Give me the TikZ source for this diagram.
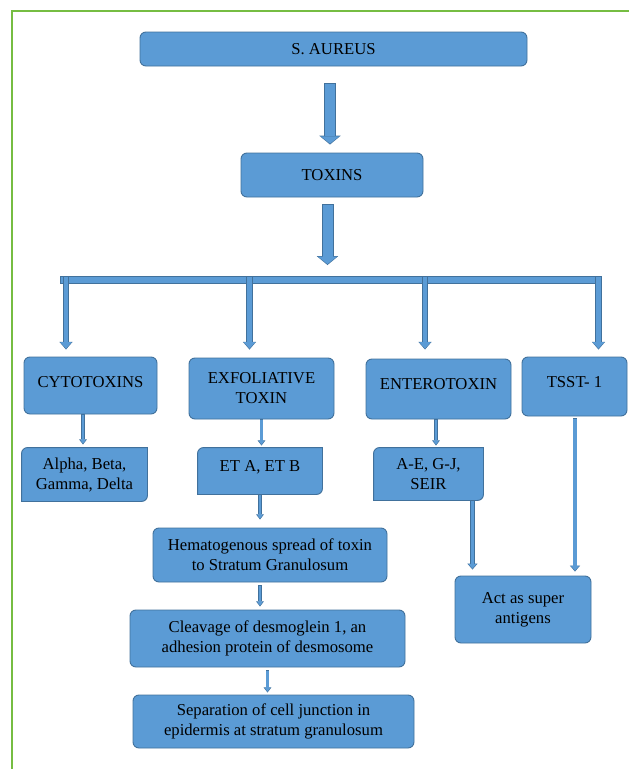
\documentclass[tikz,border=0pt]{standalone}
\usepackage{fontspec}
\setmainfont{Liberation Serif}
\usetikzlibrary{arrows.meta, calc, backgrounds}
\definecolor{boxblue}{RGB}{91,155,213}
\definecolor{edgeblue}{RGB}{65,113,156}
\definecolor{framegreen}{RGB}{118,189,66}
\tikzset{
    box/.style={draw=edgeblue, fill=boxblue, line width=0.7pt, rounded corners=4.5pt, align=center, inner sep=2pt, font=\fontsize{12.5}{15}\selectfont},
    dbox/.style={box, draw=none, fill=none},
    boxline/.style={draw=edgeblue, fill=boxblue, line width=0.7pt},
    lift/.style={text height=9pt, text depth=#1},
    blockarrow/.style n args={6}{draw=boxblue, line width=#1, -{Triangle[width=#3, length=#4, line width=0pt]}, shorten >=0.7pt, shorten <=0.5pt,
        preaction={draw=edgeblue, line width=#2, -{Triangle[width=#5, length=#6, line width=0pt]}, shorten >=0pt, shorten <=0pt}},
    bigarrow/.style={blockarrow={7.5pt}{9pt}{14pt}{5.5pt}{16pt}{6.6pt}},
    midarrow/.style={blockarrow={3.6pt}{4.6pt}{8.6pt}{4.8pt}{10pt}{5.8pt}},
    longarrow/.style={blockarrow={2.8pt}{3.7pt}{6.3pt}{3.6pt}{7.6pt}{4.4pt}},
    thinarrow/.style={blockarrow={1.8pt}{2.6pt}{4.5pt}{3pt}{5.8pt}{3.8pt}},
    bar/.style={draw=boxblue, line width=5pt, shorten >=0.7pt, shorten <=0.7pt,
        preaction={draw=edgeblue, line width=6.4pt, shorten >=0pt, shorten <=0pt}},
}
\begin{document}
\begin{tikzpicture}[x=0.75pt, y=-0.75pt]
    \useasboundingbox (0,0) rectangle (629,769);
    \draw[framegreen, line width=1pt] (12,769) -- (12,11) -- (629,11);

    % top of the tree
    \node[box, minimum width=290.25pt, minimum height=25.5pt] (sa) at (333.5,49) {S. AUREUS};
    \node[box, minimum width=136.5pt, minimum height=33pt] (tox) at (332,175) {TOXINS};

    % the four kinds of toxin
    \node[box, lift=6pt, minimum width=99.75pt, minimum height=42.75pt] (cyto) at (90.5,385.5) {CYTOTOXINS};
    \node[box, minimum width=108.75pt, minimum height=45.75pt] (exfol) at (261.5,388.5) {EXFOLIATIVE\\TOXIN};
    \node[box, lift=9pt, minimum width=108.75pt, minimum height=45pt] (entero) at (438.5,389) {ENTEROTOXIN};
    \node[box, lift=7pt, minimum width=78.75pt, minimum height=44.25pt] (tsst) at (574.5,386.5) {TSST- 1};

    % types
    \node[dbox, minimum width=93.75pt, minimum height=39.75pt] (alpha) at (84.5,474.5) {Alpha, Beta,\\Gamma, Delta};
    \node[dbox, lift=9pt, minimum width=93pt, minimum height=34.5pt] (eta) at (260,471) {ET A, ET B};
    \node[dbox, minimum width=81.75pt, minimum height=39pt] (ae) at (428.5,474) {A-E, G-J,\\SEIR};

    % effects
    \node[box, minimum width=175.5pt, minimum height=40.5pt] (hemat) at (270,555) {Hematogenous spread of toxin\\to Stratum Granulosum};
    \node[box, minimum width=206.25pt, minimum height=42.75pt] (cleav) at (267.5,638.5) {Cleavage of desmoglein 1, an\\adhesion protein of desmosome};
    \node[box, minimum width=210.75pt, minimum height=39.75pt] (sep) at (273.5,721.5) {Separation of cell junction in\\epidermis at stratum granulosum};
    \node[box, minimum width=102pt, minimum height=50.25pt] (act) at (523,609.5) {Act as super\\antigens};

    \begin{pgfonlayer}{background}
        \foreach \n in {alpha,eta,ae}
            \draw[boxline] ([xshift=4.5pt]\n.north west) -- (\n.north east) -- ([yshift=4.5pt]\n.south east)
                arc[start angle=0, end angle=-90, radius=4.5pt] -- (\n.south west) -- ([yshift=-4.5pt]\n.north west)
                arc[start angle=180, end angle=90, radius=4.5pt] -- cycle;
    \end{pgfonlayer}

    % branching bar
    \coordinate (bar) at (327.5,280);
    \coordinate (barL) at (60,280);
    \coordinate (barR) at (602,280);
    \coordinate (b1) at (66,276);
    \coordinate (b2) at (249.5,276);
    \coordinate (b3) at (425,276);
    \coordinate (b4) at (598.5,276);

    \draw[bigarrow] ($(sa.south)+(-3.5,17)$) -- ($(tox.north)+(-2,-8)$);
    \draw[bigarrow] ($(tox.south)+(-4.5,7)$) -- ($(bar)+(0,-15)$);
    \draw[bar] (barL) -- (barR);
    \draw[midarrow] (b1) -- ($(b1 |- cyto.north)+(0,-7)$);
    \draw[midarrow] (b2) -- ($(b2 |- exfol.north)+(0,-8)$);
    \draw[midarrow] (b3) -- ($(b3 |- entero.north)+(0,-9)$);
    \draw[midarrow] (b4) -- ($(b4 |- tsst.north)+(0,-7)$);

    \draw[thinarrow] ($(cyto.south)+(-7.5,0)$) -- ($(alpha.north)+(-1.5,-3)$);
    \draw[thinarrow] (exfol.south) -- ($(exfol.south |- eta.north)+(0,-2)$);
    \draw[thinarrow] ($(entero.south)+(-2.5,0)$) -- ($(ae.north)+(7.5,-2)$);
    \draw[thinarrow] (eta.south) -- ($(eta.south |- hemat.north)+(0,-8)$);
    \draw[thinarrow] ($(hemat.south)+(-10,3)$) -- ($(hemat.south |- cleav.north)+(-10,-3)$);
    \draw[thinarrow] ($(cleav.south)+(0,3)$) -- ($(cleav.south |- sep.north)+(0,-2)$);
    \draw[longarrow] ($(ae.south east)+(-11,0)$) -- ($(ae.south east |- act.north)+(-11,-6)$);
    \draw[longarrow] ($(tsst.south)+(0.5,2)$) -- ($(tsst.south |- act.north)+(0.5,-4)$);
\end{tikzpicture}
\end{document}
